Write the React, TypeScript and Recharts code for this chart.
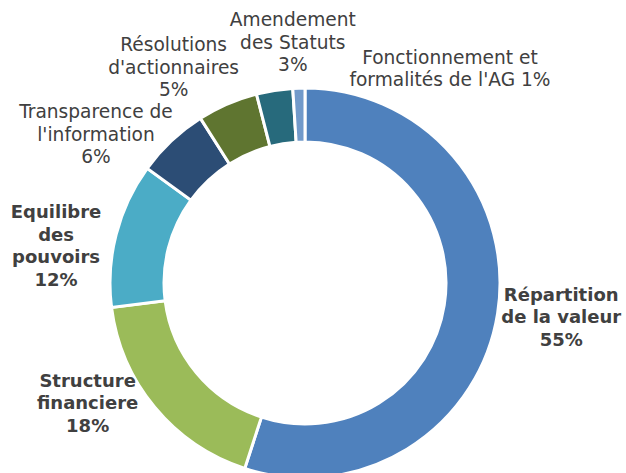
import { PieChart, Pie, Cell } from "recharts";

const categories = [
  "Répartition de la valeur",
  "Structure financiere",
  "Equilibre des pouvoirs",
  "Transparence de l'information",
  "Résolutions d'actionnaires",
  "Amendement des Statuts",
  "Fonctionnement et formalités de l'AG",
];
const shares = [55, 18, 12, 6, 5, 3, 1];

const labelLines = [
  ["Répartition", "de la valeur", "55%"],
  ["Structure", "financiere", "18%"],
  ["Equilibre", "des", "pouvoirs", "12%"],
  ["Transparence de", "l'information", "6%"],
  ["Résolutions", "d'actionnaires", "5%"],
  ["Amendement", "des Statuts", "3%"],
  ["Fonctionnement et", "formalités de l'AG 1%"],
];

const colors = ["#4f81bd", "#9bbb59", "#4bacc6", "#2c4d75", "#5f7530", "#276a7c", "#729aca"];
const boldLabel = [true, true, true, false, false, false, false];
// nudges from the radial anchor, Excel places these by hand
const nudge = [
  [34, -2],
  [-44, -24],
  [-31, 18],
  [-55, 15],
  [-42, -10],
  [23, -19],
  [152, 10],
];

const data = categories.map((name, i) => ({ name, value: shares[i] }));

const RAD = Math.PI / 180;
const LINE_H = 22.5;

const renderLabel = (props: any) => {
  const { cx, cy, midAngle, outerRadius, index } = props;
  const r = outerRadius + 30;
  const x = cx + r * Math.cos(-midAngle * RAD) + nudge[index][0];
  const y = cy + r * Math.sin(-midAngle * RAD) + nudge[index][1];
  const lines = labelLines[index];
  const top = y - ((lines.length - 1) * LINE_H) / 2;
  return (
    <text
      x={x}
      y={top}
      textAnchor="middle"
      dominantBaseline="central"
      fill="#404040"
      fontSize={boldLabel[index] ? 18 : 18.6}
      fontWeight={boldLabel[index] ? 700 : 400}
      fontFamily="'DejaVu Sans', Verdana, sans-serif"
    >
      {lines.map((l, k) => (
        <tspan key={k} x={x} y={top + k * LINE_H}>
          {l}
        </tspan>
      ))}
    </text>
  );
};

export default function App() {
  return (
    <div style={{ position: "absolute", left: 0, top: 0, width: 626, height: 473, background: "#fff", overflow: "hidden" }}>
      <PieChart width={626} height={473} margin={{ top: 0, right: 0, bottom: 0, left: 0 }}>
        <text
          x={337}
          y={-4}
          textAnchor="middle"
          fill="#000"
          fontSize={20}
          fontWeight={700}
          fontFamily="'DejaVu Sans', Verdana, sans-serif"
        >
          Principaux thèmes
        </text>
        <Pie
          data={data}
          dataKey="value"
          nameKey="name"
          cx={305}
          cy={283}
          innerRadius={141}
          outerRadius={195}
          startAngle={90}
          endAngle={-270}
          stroke="#fff"
          strokeWidth={3}
          label={renderLabel}
          labelLine={false}
          isAnimationActive={false}
        >
          {data.map((d, i) => (
            <Cell key={d.name} fill={colors[i]} />
          ))}
        </Pie>
      </PieChart>
    </div>
  );
}
